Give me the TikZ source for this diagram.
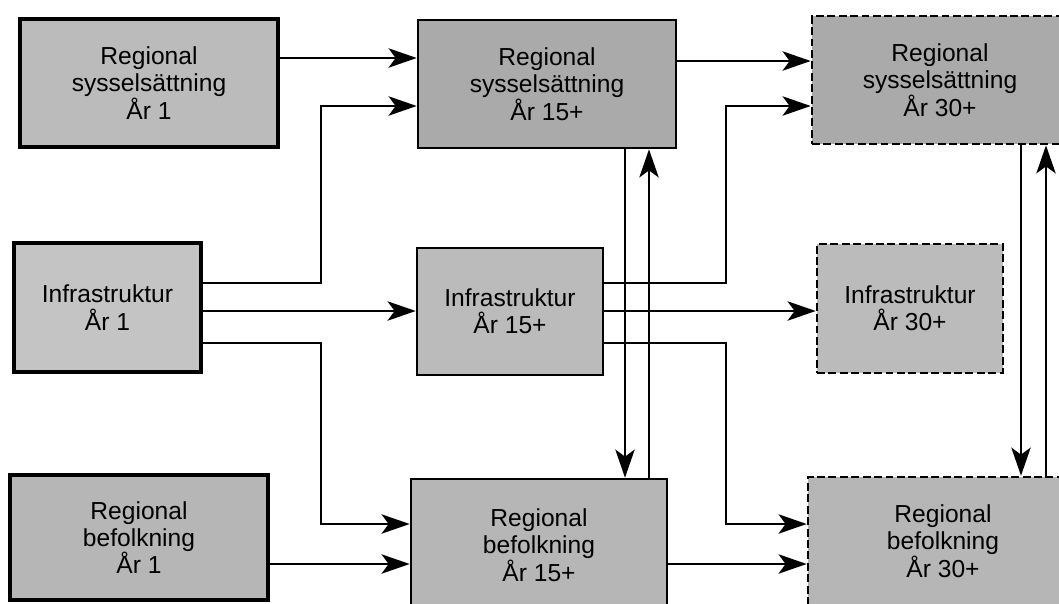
\documentclass[tikz,border=0pt]{standalone}
\usepackage{fontspec}
\setmainfont{Liberation Sans}
\usepackage{tikz}
\usetikzlibrary{arrows.meta}

\definecolor{grayA}{HTML}{BBBBBB}
\definecolor{grayB}{HTML}{AAAAAA}
\definecolor{grayC}{HTML}{C4C4C4}
\definecolor{grayD}{HTML}{B6B6B6}

\tikzset{
    box/.style={draw, line width=1.5pt, align=center, inner sep=0pt,
        font=\fontsize{14}{15.5}\selectfont},
    futurebox/.style={box, dash pattern=on 4.5pt off 2pt},
    arr/.style={-{Stealth[length=16pt,width=11pt,inset=4pt]}, line width=1.3pt},
    wire/.style={line width=1.3pt}
}

\begin{document}
\begin{tikzpicture}[x=0.02cm, y=-0.02cm]
    \useasboundingbox (0,0) rectangle (1059,603);
    \clip (0,0) rectangle (1059,603);

    % levels of the connectors
    \coordinate (rowA) at (0,58);
    \coordinate (rowAA) at (0,61);
    \coordinate (rowB) at (0,106);
    \coordinate (rowC) at (0,283);
    \coordinate (rowD) at (0,311);
    \coordinate (rowE) at (0,343);
    \coordinate (rowF) at (0,524);
    \coordinate (rowG) at (0,564);
    \coordinate (colA) at (321,0);
    \coordinate (colB) at (625,0);
    \coordinate (colC) at (649,0);
    \coordinate (colD) at (726,0);
    \coordinate (colE) at (1021,0);
    \coordinate (colF) at (1046,0);

    % year 1
    \node[box, line width=2.2pt, fill=grayA, minimum width=5.16cm, minimum height=2.56cm] (sys1) at (149,83) {Regional\\sysselsättning\\År 1};
    \node[box, line width=1.8pt, fill=grayC, minimum width=3.74cm, minimum height=2.58cm] (inf1) at (107.5,307.5) {Infrastruktur\\År 1};
    \node[box, line width=2pt, fill=grayD, minimum width=5.16cm, minimum height=2.5cm] (bef1) at (139,537.5) {Regional\\befolkning\\År 1};

    % year 15+
    \node[box, fill=grayB, minimum width=5.16cm, minimum height=2.56cm] (sys15) at (547,84) {Regional\\sysselsättning\\År 15+};
    \node[box, fill=grayA, minimum width=3.72cm, minimum height=2.54cm] (inf15) at (510,311.5) {Infrastruktur\\År 15+};
    \node[box, fill=grayD, minimum width=5.12cm, minimum height=2.64cm] (bef15) at (539,545) {Regional\\befolkning\\År 15+};

    % year 30+
    \node[futurebox, fill=grayB, minimum width=5.12cm, minimum height=2.56cm] (sys30) at (940,80) {Regional\\sysselsättning\\År 30+};
    \node[futurebox, fill=grayA, minimum width=3.72cm, minimum height=2.58cm] (inf30) at (910,308.5) {Infrastruktur\\År 30+};
    \node[futurebox, fill=grayD, minimum width=5.4cm, minimum height=2.56cm] (bef30) at (943,541) {Regional\\befolkning\\År 30+};

    % from year 1
    \draw[arr] (sys1.east |- rowA) -- (sys15.west |- rowA);
    \draw[arr] (inf1.east |- rowC) -- (colA |- rowC) -- (colA |- rowB) -- (sys15.west |- rowB);
    \draw[arr] (inf1.east |- rowD) -- (inf15.west |- rowD);
    \draw[arr] (inf1.east |- rowE) -- (colA |- rowE) -- (colA |- rowF) -- (bef15.west |- rowF);
    \draw[arr] (bef1.east |- rowG) -- (bef15.west |- rowG);

    % from year 15+
    \draw[arr] (sys15.east |- rowAA) -- (sys30.west |- rowAA);
    \draw[arr] (inf15.east |- rowC) -- (colD |- rowC) -- (colD |- rowB) -- (sys30.west |- rowB);
    \draw[arr] (inf15.east |- rowD) -- (inf30.west |- rowD);
    \draw[arr] (inf15.east |- rowE) -- (colD |- rowE) -- (colD |- rowF) -- (bef30.west |- rowF);
    \draw[arr] (bef15.east |- rowG) -- (bef30.west |- rowG);

    % between employment and population
    \draw[arr] (sys15.south -| colB) -- (bef15.north -| colB);
    \draw[arr] (bef15.north -| colC) -- (sys15.south -| colC);
    \draw[arr] (sys30.south -| colE) -- (bef30.north -| colE);
    \draw[arr] (bef30.north -| colF) -- (sys30.south -| colF);
\end{tikzpicture}
\end{document}
